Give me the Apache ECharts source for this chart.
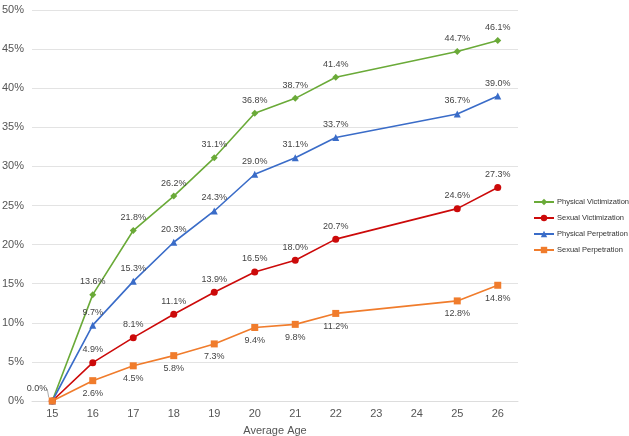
<!DOCTYPE html>
<html><head><meta charset="utf-8">
<script src="https://cdn.jsdelivr.net/npm/echarts@6/dist/echarts.min.js"></script>
<style>html,body{margin:0;padding:0;background:#fff}#c{width:629px;height:436px}</style>
</head><body><div id="c"></div>
<script>
const ages = ['15','16','17','18','19','20','21','22','23','24','25','26'];
const physicalVictimization = [0, 13.6, 21.8, 26.2, 31.1, 36.8, 38.7, 41.4, null, null, 44.7, 46.1];
const sexualVictimization   = [0, 4.9, 8.1, 11.1, 13.9, 16.5, 18.0, 20.7, null, null, 24.6, 27.3];
const physicalPerpetration  = [0, 9.7, 15.3, 20.3, 24.3, 29.0, 31.1, 33.7, null, null, 36.7, 39.0];
const sexualPerpetration    = [0, 2.6, 4.5, 5.8, 7.3, 9.4, 9.8, 11.2, null, null, 12.8, 14.8];
const yTicks = [0, 5, 10, 15, 20, 25, 30, 35, 40, 45, 50];

const chart = echarts.init(document.getElementById('c'));
const baseFont = "Arial, 'Liberation Sans', sans-serif";
const lblFont = {fontSize: 9, color: '#444', fontFamily: baseFont};
function mk(name, arr, color, symbol, pos, showZero) {
  return {
    name, type: 'line', connectNulls: true, symbol, symbolSize: 7,
    itemStyle: {color}, lineStyle: {color, width: 1.6},
    data: arr.map((v, i) => {
      if (i === 0) {
        return {value: v,
          label: showZero ? {show: true, position: [-22, -13], formatter: '0.0%'} : {show: false},
          labelLine: showZero ? {show: true, lineStyle: {color: '#aaa', width: 1}} : {show: false}};
      }
      return v;
    }),
    label: Object.assign({show: true, position: pos, distance: 5,
      formatter: p => p.value == null ? '' : Number(p.value).toFixed(1) + '%'}, lblFont),
    emphasis: {disabled: true}
  };
}
chart.setOption({
  animation: false,
  grid: {left: 32, right: 111, top: 10, bottom: 35, outerBoundsMode: 'none', containLabel: false},
  legend: {
    orient: 'vertical', left: 528, top: 193, itemGap: 8, itemWidth: 20, itemHeight: 8,
    textStyle: {fontSize: 7.5, color: '#333', fontFamily: baseFont, padding: [0, 0, 0, -2]},
    data: ['Physical Victimization', 'Sexual Victimization', 'Physical Perpetration', 'Sexual Perpetration']
  },
  xAxis: {
    type: 'category', data: ages, boundaryGap: true,
    name: 'Average Age', nameLocation: 'middle', nameGap: 24,
    nameTextStyle: {fontSize: 11, color: '#555', fontFamily: baseFont},
    axisLine: {lineStyle: {color: '#ddd'}}, axisTick: {show: false},
    axisLabel: {fontSize: 11, color: '#555', margin: 7, fontFamily: baseFont}
  },
  yAxis: {
    type: 'value', min: yTicks[0], max: yTicks[yTicks.length - 1], interval: 5,
    axisLine: {show: false}, axisTick: {show: false},
    splitLine: {lineStyle: {color: '#e3e3e3', width: 1}},
    axisLabel: {fontSize: 11, color: '#555', margin: 8, formatter: '{value}%', fontFamily: baseFont}
  },
  series: [
    mk('Physical Victimization', physicalVictimization, '#6aaa38', 'diamond', 'top', false),
    mk('Sexual Victimization', sexualVictimization, '#cc0a0a', 'circle', 'top', false),
    mk('Physical Perpetration', physicalPerpetration, '#3a6cc8', 'triangle', 'top', false),
    mk('Sexual Perpetration', sexualPerpetration, '#f07c2c', 'rect', 'bottom', true)
  ]
});
</script></body></html>
